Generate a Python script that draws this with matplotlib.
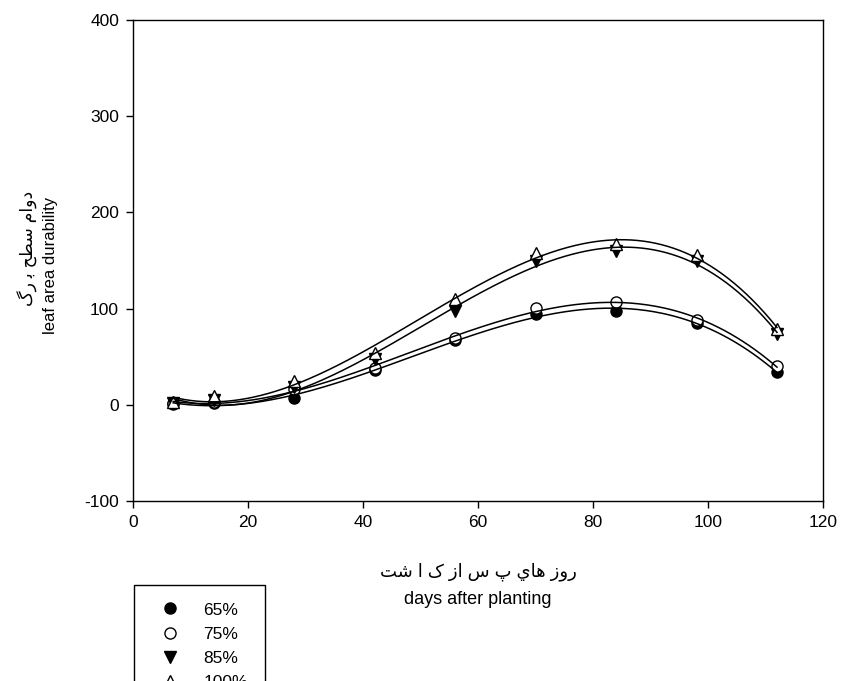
import numpy as np
import matplotlib
matplotlib.use("Agg")
import matplotlib.pyplot as plt
from matplotlib.lines import Line2D

plt.rcParams['font.family'] = ['Liberation Sans', 'DejaVu Sans']
plt.rcParams['axes.unicode_minus'] = False

days = [7, 14, 28, 42, 56, 70, 84, 98, 112]
lad_65 = [1, 2, 7, 36, 67, 94, 97, 85, 34]
lad_75 = [2, 3, 16, 38, 69, 101, 107, 88, 40]
lad_85 = [2, 5, 18, 48, 98, 150, 160, 149, 74]
lad_100 = [3, 9, 25, 54, 110, 158, 167, 156, 79]

labels = ['65%', '75%', '85%', '100%']
markers = ['o', 'o', 'v', '^']
faces = ['black', 'white', 'black', 'white']

# persian labels, written in visual order with presentation forms
xlabel_fa = "\uFE96\uFEB7 \uFE8D \uFB8E \uFEAF\uFE8D \uFEB1 \uFB56 \uFEF1\uFE8E\uFEEB \uFEAF\uFEED\uFEAD"
ylabel_fa = "\uFB92\uFEAD \uFE91 \uFEA2\uFEC4\uFEB3 \uFEE1\uFE8D\uFEED\uFEA9"

fig = plt.figure(figsize=(8.41, 6.81), dpi=100)
ax = fig.add_axes([133 / 841, 1 - 501 / 681, 690 / 841, 481 / 681])

series = [lad_65, lad_75, lad_85, lad_100]
xs = np.linspace(days[0], days[-1], 300)
handles = []
for vals, m, fc, lab in zip(series, markers, faces, labels):
    ax.plot(days, vals, linestyle='none', marker=m, markersize=8,
            markerfacecolor=fc, markeredgecolor='black', markeredgewidth=1,
            zorder=3)
    coef = np.polyfit(days, vals, 3)
    ax.plot(xs, np.polyval(coef, xs), color='black', linewidth=1.1, zorder=4)
    handles.append(Line2D([], [], linestyle='none', marker=m, markersize=8,
                          markerfacecolor=fc, markeredgecolor='black', label=lab))

ax.set_xlim(0, 120)
ax.set_ylim(-100, 400)
ax.set_xticks(range(0, 121, 20))
ax.set_yticks(range(-100, 401, 100))
ax.tick_params(direction='out', length=5, width=1, labelsize=12.5, pad=5)
for s in ax.spines.values():
    s.set_linewidth(1)

fig.text(478 / 841, 1 - 572 / 681, xlabel_fa, ha='center', va='center', fontsize=13)
fig.text(478 / 841, 1 - 599 / 681, 'days after planting', ha='center', va='center', fontsize=13)
fig.text(28 / 841, 1 - 248 / 681, ylabel_fa, ha='center', va='center', fontsize=12.5, rotation=90)
fig.text(51 / 841, 1 - 265 / 681, 'leaf area durability', ha='center', va='center', fontsize=12, rotation=90)

# legend sits under the axes and runs off the bottom edge, as in the source
leg = fig.legend(handles=handles, loc='upper left',
                 bbox_to_anchor=(134 / 841, 1 - 585 / 681),
                 fancybox=False, edgecolor='black', framealpha=1,
                 fontsize=12.5, borderpad=1.0, handlelength=2.2,
                 handletextpad=0.8, labelspacing=0.52, borderaxespad=0)
leg.get_frame().set_linewidth(1)

fig.savefig('out.png', dpi=100)
